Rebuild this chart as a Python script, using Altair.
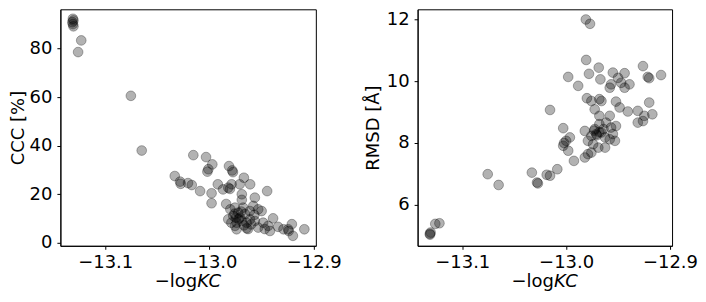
import altair as alt
import pandas as pd

# ---- data ----
ccc_x = [-13.131, -13.1305, -13.1315, -13.131, -13.1305, -13.123, -13.126,
         -13.0754, -13.065,
         -13.0155, -13.0033, -12.9973, -13.0011, -13.002, -12.9813, -12.9782, -12.9775,
         -13.0333, -13.0282, -13.0276, -13.017, -13.0206, -13.009, -12.998, -12.998,
         -12.992, -12.987, -12.982, -12.9804, -12.9788, -12.967, -12.961, -12.971,
         -12.9447, -12.9565, -12.969,
         -12.980, -12.9756, -12.9724, -12.9772, -12.9708, -12.9677, -12.9612, -12.958,
         -12.9533, -12.950, -12.974, -12.969, -12.9644, -12.9612, -12.9565, -12.974,
         -12.9644, -12.9533, -12.9485, -12.9437, -12.939, -12.9342, -12.929, -12.9245,
         -12.924, -12.921, -12.920, -12.909, -12.982, -12.979, -12.966, -12.9746,
         -12.963, -12.947, -12.942, -12.984, -12.969,
         -12.976, -12.972, -12.967, -12.960, -12.957, -12.9755, -12.9695]
ccc_y = [92.2, 91.5, 90.8, 90.0, 89.1, 83.3, 78.5,
         60.5, 38.0,
         36.1, 35.3, 32.3, 30.3, 29.3, 31.6, 29.8, 29.1,
         27.5, 25.2, 24.3, 23.8, 24.6, 21.3, 20.4, 16.3,
         24.1, 22.0, 22.7, 22.2, 24.1, 26.8, 24.1, 24.1,
         21.3, 18.6, 20.0,
         13.8, 14.5, 12.4, 11.1, 10.4, 14.5, 13.1, 15.2,
         13.8, 13.1, 8.3, 9.0, 8.3, 9.7, 9.0, 5.6,
         6.0, 6.3, 8.3, 7.0, 10.1, 6.6, 5.6, 5.6,
         4.9, 7.7, 2.9, 5.6, 9.7, 8.3, 11.9, 10.3,
         5.7, 5.7, 4.9, 16.0, 17.7,
         12.0, 9.8, 7.2, 7.6, 11.5, 7.0, 12.9]

rmsd_x = [-13.131, -13.1305, -13.1312, -13.126, -13.122,
          -13.0755, -13.065, -13.033, -13.028, -13.0272, -13.0187, -13.0155, -13.0085,
          -12.981, -12.977,
          -12.9807, -12.9686, -12.978, -12.998, -12.9884, -12.967, -12.955, -12.9437,
          -12.950, -12.9567, -12.958, -12.947, -12.9437, -12.939, -12.926, -12.9214,
          -12.920, -12.9086,
          -12.980, -12.9757, -12.968, -12.966, -12.9725, -12.952, -12.9485, -12.9406,
          -12.931, -12.920, -12.917, -12.9247, -12.926, -12.931, -13.0155, -12.968,
          -12.958, -12.9615, -12.9567, -12.952, -12.968, -12.9725, -12.971, -12.966,
          -12.9625, -12.958, -12.955, -12.982, -12.9757, -12.979, -12.974, -12.969,
          -12.953, -12.9625, -12.979, -12.9757, -12.982, -13.0028, -13.000, -13.002,
          -12.9964, -12.998, -13.0028, -12.9925,
          -12.973, -12.968, -12.964, -12.9705]
rmsd_y = [5.03, 5.10, 5.06, 5.38, 5.40,
          6.99, 6.64, 7.04, 6.72, 6.69, 6.97, 6.94, 7.15,
          12.00, 11.86,
          10.69, 10.44, 10.24, 10.14, 9.85, 10.06, 10.28, 10.26,
          10.11, 9.90, 9.79, 9.95, 9.79, 9.90, 10.49, 10.14,
          10.10, 10.20,
          9.45, 9.36, 9.42, 9.36, 9.09, 9.34, 9.15, 9.02,
          9.04, 9.31, 8.93, 8.88, 8.71, 8.66, 9.07, 8.88,
          8.88, 8.66, 8.50, 8.55, 8.61, 8.45, 8.29, 8.34,
          8.18, 8.12, 8.29, 8.39, 8.23, 8.07, 7.96, 7.85,
          8.07, 7.85, 7.64, 7.69, 7.53, 8.48, 8.07, 8.00,
          8.18, 7.75, 7.91, 7.42,
          8.40, 8.35, 8.45, 8.25]

x_ticks = [-13.1, -13.0, -12.9]
ccc_ticks = [0, 20, 40, 60, 80]
rmsd_ticks = [6, 8, 10, 12]
x_domain = [-13.143, -12.898]
ccc_domain = [-1.2, 96.1]
rmsd_domain = [4.67, 12.33]

FONT = "DejaVu Sans"
FS = 18
H = 237

left_df = pd.DataFrame({"x": ccc_x, "y": ccc_y})
right_df = pd.DataFrame({"x": rmsd_x, "y": rmsd_y})


def panel(df, width, ydomain, yticks, ytitle, title_x):
    pts = alt.Chart(df).mark_circle(
        size=95, fill="black", stroke="black", strokeWidth=1,
        fillOpacity=0.3, strokeOpacity=0.3, opacity=1
    ).encode(
        x=alt.X("x:Q", scale=alt.Scale(domain=x_domain, nice=False, zero=False),
                axis=alt.Axis(values=x_ticks, format=".1f", title=None, labelPadding=4)),
        y=alt.Y("y:Q", scale=alt.Scale(domain=ydomain, nice=False, zero=False),
                axis=alt.Axis(values=yticks, format="d", title=ytitle, labelPadding=5,
                              titleX=title_x, titleBaseline="alphabetic")),
    )
    w_log = 2.363 * FS
    w_kc = 1.354 * FS
    split = width / 2 - (w_log + w_kc) / 2 + w_log
    t1 = alt.Chart(pd.DataFrame({"t": ["\u2212log"]})).mark_text(
        align="right", baseline="alphabetic", font=FONT, fontSize=FS, color="black"
    ).encode(x=alt.value(split), y=alt.value(H + 41), text="t:N")
    t2 = alt.Chart(pd.DataFrame({"t": ["KC"]})).mark_text(
        align="left", baseline="alphabetic", font=FONT, fontSize=FS,
        fontStyle="italic", color="black"
    ).encode(x=alt.value(split), y=alt.value(H + 41), text="t:N")
    return alt.layer(pts, t1, t2).properties(width=width, height=H)


left = panel(left_df, 256, ccc_domain, ccc_ticks, "CCC [%]", -36.5)
right = panel(right_df, 255, rmsd_domain, rmsd_ticks, "RMSD [\u00c5]", -39.5)

chart = alt.hconcat(left, right, spacing=102, bounds="flush").properties(
    padding={"left": 1.5, "top": 0, "right": 0, "bottom": 0}
).configure_view(
    stroke="black", strokeWidth=1
).configure_axis(
    grid=False, domainColor="black", domainWidth=1, tickColor="black",
    tickSize=3.5, tickWidth=1, labelColor="black", labelFont=FONT,
    labelFontSize=FS, titleFont=FONT, titleFontSize=FS,
    titleFontWeight="normal", titleColor="black"
)

chart.save("out.html", embed_options={"renderer": "svg", "actions": False})
